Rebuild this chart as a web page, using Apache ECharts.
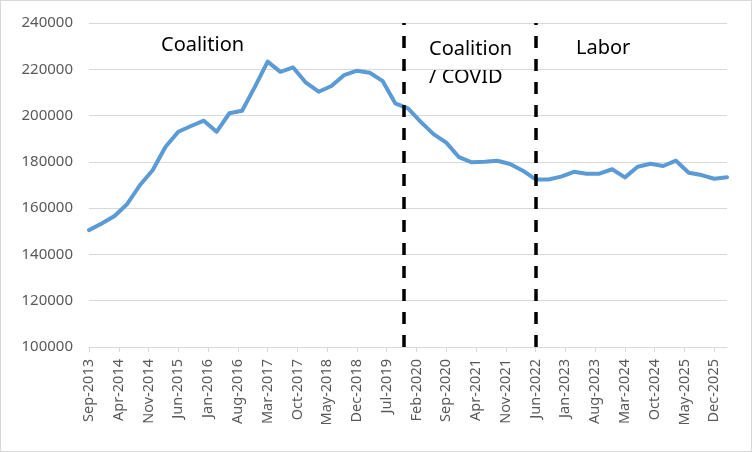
<!DOCTYPE html>
<html>
<head>
<meta charset="utf-8">
<script src="https://cdn.jsdelivr.net/npm/echarts@6/dist/echarts.min.js"></script>
<style>
  html, body { margin: 0; padding: 0; background: #fff; }
  #chart { width: 750px; height: 450px; border: 1px solid #d9d9d9; }
</style>
</head>
<body>
<div id="chart"></div>
<script>
// 月份标签 Sep-2013 .. Mar-2026
var monthNames = ['Jan', 'Feb', 'Mar', 'Apr', 'May', 'Jun', 'Jul', 'Aug', 'Sep', 'Oct', 'Nov', 'Dec']
var months = []
for (var i = 0; i < 151; i++) {
  var m = (8 + i) % 12
  var y = 2013 + Math.floor((8 + i) / 12)
  months.push(monthNames[m] + '-' + y)
}

// quarterly values, one every 3 months from Sep-2013
var values = [
  150500, 153400, 156600, 161800, 170000, 176500, 186500, 193000, 195500, 197800,
  193000, 201000, 202100, 212400, 223300, 218900, 220800, 214200, 210300, 212800,
  217500, 219400, 218500, 215000, 205300, 203100, 197300, 192000, 188300, 182000,
  179800, 180000, 180500, 179100, 176200, 172400, 172400, 173600, 175700, 174900,
  174900, 176800, 173300, 177900, 179200, 178200, 180500, 175300, 174300, 172700,
  173300
]

var periodLines = ['Nov-2019', 'Jun-2022']
var yTicks = { min: 100000, max: 240000, step: 20000 }

var seriesData = values.map(function (v, i) {
  return [months[i * 3], v]
})

var chart = echarts.init(document.getElementById('chart'))
var option = {
  animation: false,
  textStyle: { fontFamily: 'Noto Sans' },
  grid: { left: 88, right: 24, top: 22, bottom: 104 },
  xAxis: {
    type: 'category',
    data: months,
    boundaryGap: false,
    axisLine: { lineStyle: { color: '#d9d9d9', width: 1 } },
    axisTick: { interval: 6, length: 5, lineStyle: { color: '#d9d9d9' } },
    axisLabel: {
      interval: 6,
      rotate: 90,
      fontSize: 14.5,
      color: '#595959',
      margin: 12,
    },
    splitLine: { show: false },
  },
  yAxis: {
    type: 'value',
    min: yTicks.min,
    max: yTicks.max,
    interval: yTicks.step,
    axisLine: { show: false },
    axisTick: { show: false },
    axisLabel: {
      fontSize: 15,
      color: '#595959',
      margin: 16,
      formatter: function (v) { return String(v) },
    },
    splitLine: { lineStyle: { color: '#d9d9d9', width: 1 } },
  },
  graphic: [
    {
      type: 'text', left: 160, top: 34,
      style: { text: 'Coalition', fontSize: 20, fontFamily: 'Noto Sans', fill: '#000' },
    },
    {
      type: 'text', left: 428, top: 34,
      style: { text: 'Coalition\n/ COVID', fontSize: 20, lineHeight: 28, fontFamily: 'Noto Sans', fill: '#000' },
    },
    {
      type: 'text', left: 575, top: 37,
      style: { text: 'Labor', fontSize: 20, fontFamily: 'Noto Sans', fill: '#000' },
    },
  ],
  series: [
    {
      type: 'line',
      data: seriesData,
      showSymbol: false,
      symbol: 'none',
      lineStyle: { color: '#5b9bd5', width: 4, cap: 'round', join: 'round' },
      markLine: {
        silent: true,
        symbol: 'none',
        label: { show: false },
        lineStyle: { color: '#000', width: 3.5, type: [12, 11] },
        data: periodLines.map(function (d) { return { xAxis: d } }),
      },
    },
  ],
}
chart.setOption(option)
</script>
</body>
</html>
